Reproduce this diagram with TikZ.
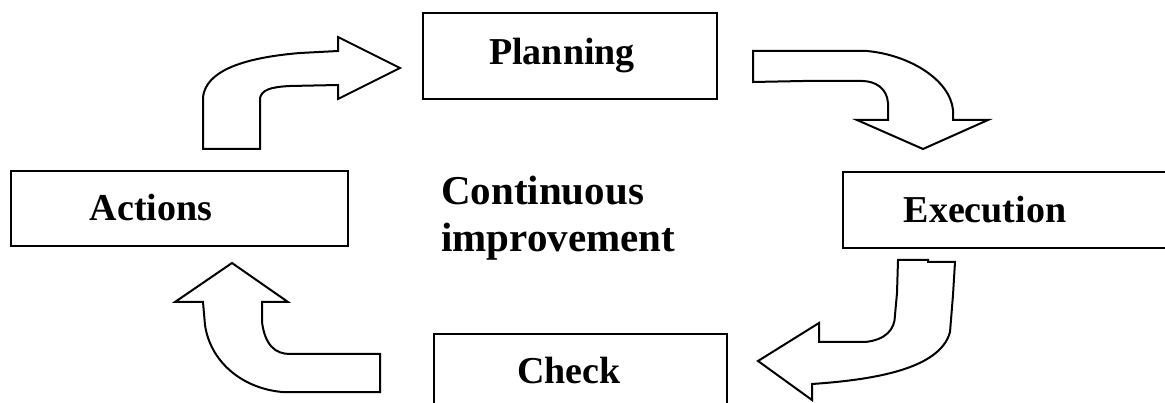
\documentclass[tikz,border=0pt]{standalone}
\usepackage{fontspec}
\setmainfont{Liberation Serif}
\begin{document}
\begin{tikzpicture}[x=1pt,y=-1pt,
  box/.style={draw=black, line width=2.8pt, rectangle, inner sep=0pt},
  lbl/.style={font=\bfseries\fontsize{38}{40}\selectfont, anchor=base, inner sep=0pt},
  ctr/.style={font=\bfseries\fontsize{41}{41}\selectfont, anchor=base west, inner sep=0pt},
  bigarrow/.style={draw=black, line width=2pt, line join=miter, fill=white}]
\useasboundingbox (0,0) rectangle (1165,403);
\begin{scope}
\clip (0,0) rectangle (1165,403);
% boxes
\node[box, minimum width=294pt, minimum height=86pt] (plan) at (570,56) {};
\node[box, minimum width=337pt, minimum height=75pt] (act) at (179.5,208.5) {};
\node[box, minimum width=340pt, minimum height=76pt] (exe) at (1013,210) {};
\node[box, minimum width=293pt, minimum height=90pt] (chk) at (580.5,379) {};
% labels
\node[lbl] (planT) at (562,65) {Planning};
\node[lbl] (actT) at (151,221) {Actions};
\node[lbl] (exeT) at (985,223) {Execution};
\node[lbl] (chkT) at (569,383) {Check};
\node[ctr] (ci1) at (441,205) {Continuous};
\node[ctr] (ci2) at (441,252) {improvement};
% upper-left arrow (Actions -> Planning)
\draw[bigarrow] (203,149) -- (203,97) .. controls (206,72) and (240,58) .. (300,53) -- (338,51)
  -- (338,37) -- (400,68) -- (338,99) -- (338,85) -- (290,86)
  .. controls (270,87) and (262,90) .. (260,98) -- (260,149) -- cycle;
% top-right arrow (Planning -> Execution)
\draw[bigarrow] (753,51) -- (867,51) .. controls (910,55) and (950,80) .. (953,110) -- (953,120)
  -- (988,120) -- (923,149) -- (857,120) -- (888,120) -- (888,103)
  .. controls (887,88) and (875,81) .. (862,81) -- (803,81) -- (753,82) -- cycle;
% bottom-right arrow (Execution -> Check)
\draw[bigarrow] (898,260) -- (928,260) -- (928,262) -- (955,262) -- (953,295) -- (950,332)
  .. controls (940,370) and (870,380) .. (812,384) -- (812,400) -- (758,361) -- (819,323)
  -- (819,342) -- (865,342) .. controls (885,340) and (895,330) .. (895,315) -- (897,293) -- cycle;
% bottom-left arrow (Check -> Actions)
\draw[bigarrow] (232,263) -- (288,302) -- (262,302) -- (262,322)
  .. controls (265,345) and (275,354) .. (290,354) -- (380,354) -- (380,392) -- (282,392)
  .. controls (240,388) and (210,360) .. (205,325) -- (203,302) -- (175,302) -- cycle;
\end{scope}
\end{tikzpicture}
\end{document}
